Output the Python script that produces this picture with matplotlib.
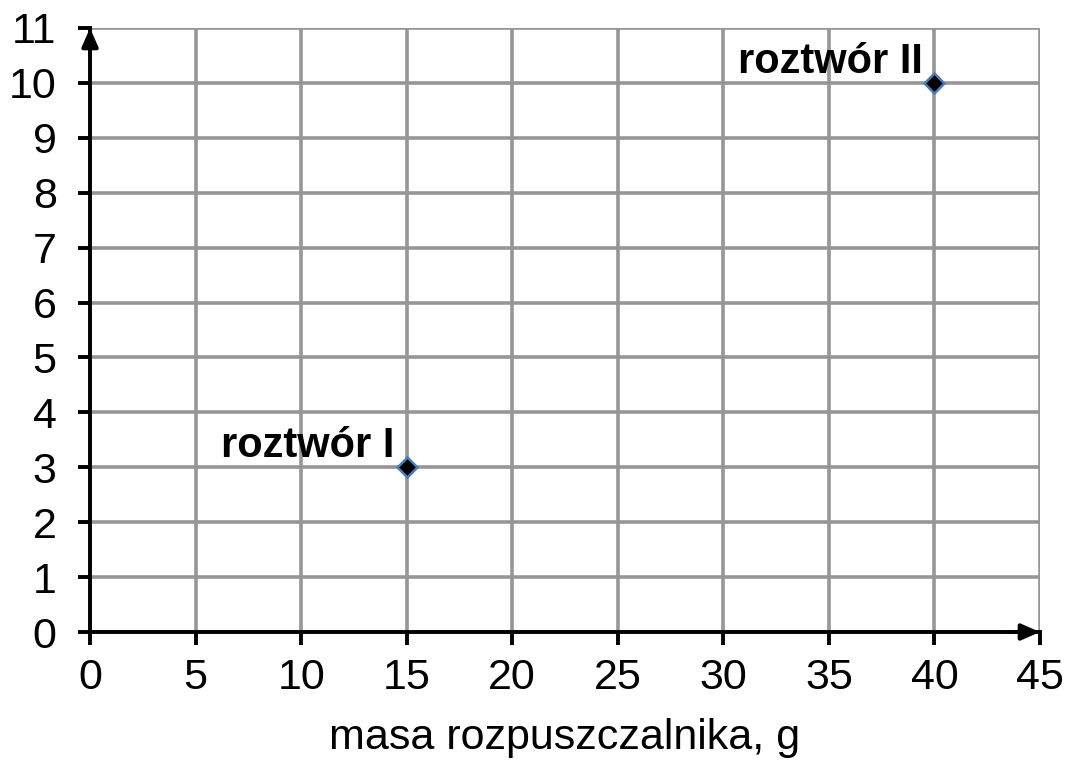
import matplotlib.pyplot as plt

# data
masa = [15, 40]
wartosc = [3, 10]
etykiety = ['roztwór I', 'roztwór II']
x_ticks = list(range(0, 50, 5))
y_ticks = list(range(0, 12))

plt.rcParams['font.family'] = ['Liberation Sans', 'DejaVu Sans']

fig = plt.figure(figsize=(10.68, 7.6), dpi=100)
ax = fig.add_axes([0.0843, 0.1684, 0.8895, 0.7948])

ax.set_xlim(0, 45)
ax.set_ylim(0, 11)
ax.set_xticks(x_ticks)
ax.set_yticks(y_ticks)
ax.grid(True, color='#969696', linewidth=2.6, zorder=0)
ax.set_axisbelow(True)

for s in ['top', 'right']:
    ax.spines[s].set_visible(False)
for s in ['left', 'bottom']:
    ax.spines[s].set_linewidth(2.8)
    ax.spines[s].set_zorder(3)

ax.tick_params(axis='both', length=9, width=2.8, labelsize=31, colors='black')
ax.tick_params(axis='x', pad=10)
ax.tick_params(axis='y', pad=15)

# arrow heads at axis ends
strzalka = dict(arrowstyle='-|>,head_length=0.8,head_width=0.35', color='black',
                lw=2.8, mutation_scale=14, shrinkA=0, shrinkB=0)
ax.annotate('', xy=(45, 0), xytext=(43.5, 0), arrowprops=strzalka,
            annotation_clip=False, zorder=4)
ax.annotate('', xy=(0, 11), xytext=(0, 10.5), arrowprops=strzalka,
            annotation_clip=False, zorder=4)

ax.plot(masa, wartosc, linestyle='none', marker='D', markersize=10,
        markerfacecolor='black', markeredgecolor='#4a7ebb',
        markeredgewidth=1.8, zorder=5, clip_on=False)

for x, y, t in zip(masa, wartosc, etykiety):
    ax.annotate(t, xy=(x, y), xytext=(-12, 10), textcoords='offset pixels',
                ha='right', va='baseline', fontsize=30, fontweight='bold')

ax.set_xlabel('masa rozpuszczalnika, g', fontsize=31, labelpad=14)

fig.savefig('out.png', dpi=100)
